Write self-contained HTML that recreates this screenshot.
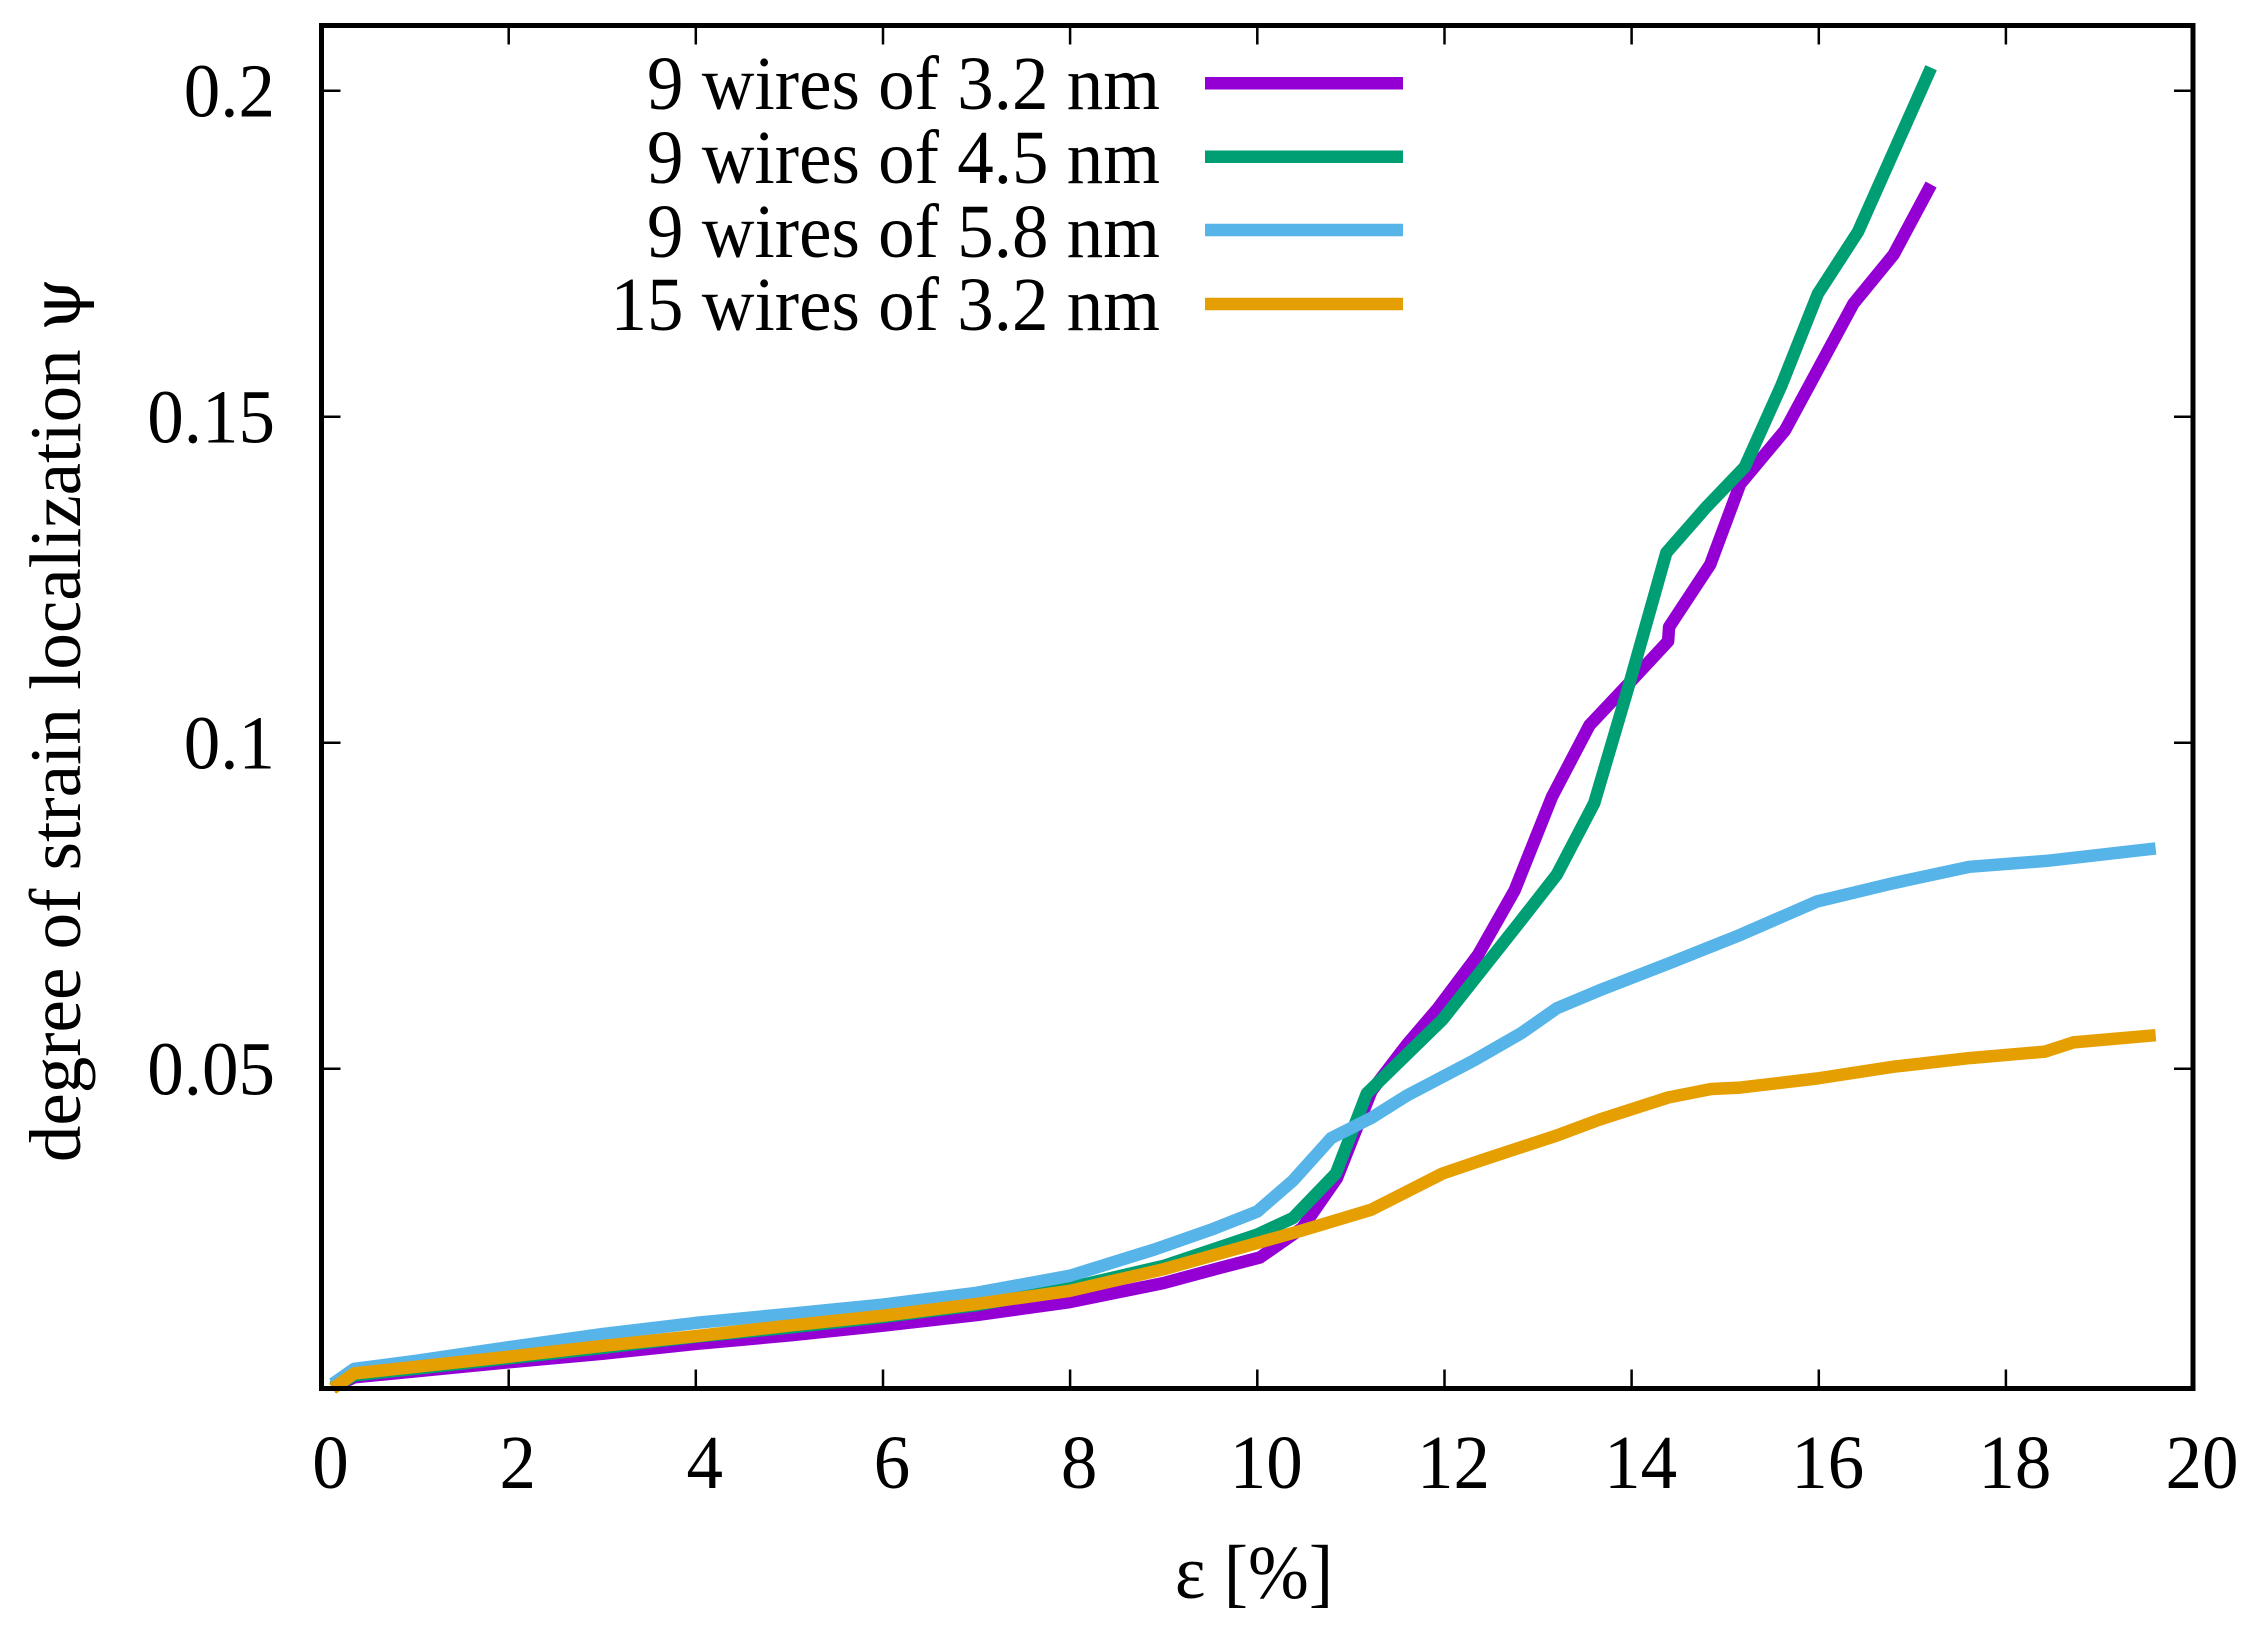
<!DOCTYPE html>
<html>
<head>
<meta charset="utf-8">
<style>
  html, body { margin: 0; padding: 0; background: #ffffff; }
  body { width: 2263px; height: 1637px; overflow: hidden; }
  svg { display: block; }
  text { font-family: "Liberation Serif", "DejaVu Serif", serif; font-size: 73px; fill: #000; }
</style>
</head>
<body>
<svg width="2263" height="1637" viewBox="0 0 2263 1637" xmlns="http://www.w3.org/2000/svg">
  <rect x="0" y="0" width="2263" height="1637" fill="#ffffff"/>

  <!-- ticks -->
  <g stroke="#000" stroke-width="2.5" fill="none">
    <path d="M508.7 1388.5V1369.5 M695.8 1388.5V1369.5 M883.0 1388.5V1369.5 M1070.1 1388.5V1369.5 M1257.3 1388.5V1369.5 M1444.5 1388.5V1369.5 M1631.6 1388.5V1369.5 M1818.8 1388.5V1369.5 M2005.9 1388.5V1369.5"/>
    <path d="M508.7 25.5V44.5 M695.8 25.5V44.5 M883.0 25.5V44.5 M1070.1 25.5V44.5 M1257.3 25.5V44.5 M1444.5 25.5V44.5 M1631.6 25.5V44.5 M1818.8 25.5V44.5 M2005.9 25.5V44.5"/>
    <path d="M321.5 1068.7H340.5 M321.5 742.7H340.5 M321.5 416.7H340.5 M321.5 90.7H340.5"/>
    <path d="M2193 1068.7H2174 M2193 742.7H2174 M2193 416.7H2174 M2193 90.7H2174"/>
  </g>

  <!-- curves -->
  <g fill="none" stroke-width="12.5" stroke-linejoin="round" stroke-linecap="butt">
    <polyline stroke="#9400D3" points="332.7,1387.2 354.3,1377.3 415.1,1371.4 508.7,1362.3 602.2,1353.8 695.8,1343.9 789.4,1335.4 883.0,1325.6 976.6,1315.1 1070.1,1302.0 1163.7,1283.0 1219.9,1267.9 1260.1,1257.4 1302.2,1228.0 1337.0,1178.0 1371.5,1090.9 1407.0,1044.4 1437.9,1008.3 1478.2,954.6 1514.6,890.4 1552.1,796.6 1589.5,725.2 1629.7,682.6 1668.1,641.3 1669.1,626.9 1710.2,564.6 1740.2,484.0 1785.1,430.2 1853.4,303.7 1893.6,254.6 1931.1,184.5"/>
    <polyline stroke="#009E73" points="332.7,1387.2 354.3,1375.4 415.1,1368.8 508.7,1358.3 602.2,1347.9 695.8,1336.7 789.4,1327.5 883.0,1317.0 976.6,1305.2 1070.1,1287.6 1163.7,1265.9 1257.3,1234.5 1292.9,1218.1 1335.9,1173.5 1366.8,1093.5 1442.6,1019.5 1518.4,923.8 1556.8,874.6 1594.2,803.2 1629.7,682.6 1666.3,552.8 1706.5,506.9 1744.8,466.9 1781.3,385.7 1817.8,293.9 1858.1,231.6 1931.1,67.7"/>
    <polyline stroke="#56B4E9" points="332.7,1383.9 354.3,1368.8 415.1,1361.0 508.7,1347.2 602.2,1334.1 695.8,1322.9 789.4,1313.8 883.0,1304.6 976.6,1292.8 1070.1,1275.7 1154.4,1249.5 1210.5,1229.9 1257.3,1211.5 1292.9,1180.7 1331.2,1138.1 1371.5,1117.8 1407.0,1095.5 1474.4,1060.1 1521.2,1033.2 1556.8,1008.3 1598.9,990.6 1668.1,963.7 1740.2,934.9 1816.9,901.5 1893.6,883.1 1969.4,866.8 2046.2,860.9 2155.7,848.4"/>
    <polyline stroke="#E69F00" points="332.7,1388.5 354.3,1373.4 415.1,1366.9 508.7,1356.7 602.2,1345.9 695.8,1336.1 789.4,1325.6 883.0,1315.7 976.6,1303.9 1070.1,1290.8 1163.7,1269.2 1257.3,1243.0 1304.1,1229.9 1371.5,1209.6 1442.6,1173.5 1481.0,1160.4 1556.8,1135.5 1598.9,1119.8 1668.1,1097.5 1711.2,1089.0 1740.2,1087.6 1816.9,1078.5 1893.6,1066.7 1969.4,1058.1 2045.2,1051.6 2073.3,1042.4 2155.7,1035.2"/>
  </g>

  <!-- border -->
  <rect x="321.5" y="25.5" width="1871.5" height="1363" fill="none" stroke="#000" stroke-width="5"/>

  <!-- y tick labels -->
  <g text-anchor="end" font-family="Liberation Serif, serif">
    <text transform="translate(275,116.7) scale(1,1.045)">0.2</text>
    <text transform="translate(275,442.7) scale(1,1.045)">0.15</text>
    <text transform="translate(275,768.7) scale(1,1.045)">0.1</text>
    <text transform="translate(275,1094.7) scale(1,1.045)">0.05</text>
  </g>

  <!-- x tick labels -->
  <g text-anchor="middle" font-family="Liberation Serif, serif">
    <text transform="translate(330.5,1488) scale(1,1.045)">0</text>
    <text transform="translate(517.7,1488) scale(1,1.045)">2</text>
    <text transform="translate(704.8,1488) scale(1,1.045)">4</text>
    <text transform="translate(892,1488) scale(1,1.045)">6</text>
    <text transform="translate(1079.1,1488) scale(1,1.045)">8</text>
    <text transform="translate(1266.3,1488) scale(1,1.045)">10</text>
    <text transform="translate(1453.5,1488) scale(1,1.045)">12</text>
    <text transform="translate(1640.6,1488) scale(1,1.045)">14</text>
    <text transform="translate(1827.8,1488) scale(1,1.045)">16</text>
    <text transform="translate(2014.9,1488) scale(1,1.045)">18</text>
    <text transform="translate(2202,1488) scale(1,1.045)">20</text>
  </g>

  <!-- axis labels -->
  <text text-anchor="middle" font-family="Liberation Serif, serif" transform="translate(1254,1598) scale(1,1.045)">ε [%]</text>
  <text text-anchor="middle" font-family="Liberation Serif, serif" transform="translate(80,720) rotate(-90)">degree of strain localization <tspan font-family="DejaVu Serif, serif" font-size="68">ψ</tspan></text>

  <!-- legend -->
  <g text-anchor="end" font-family="Liberation Serif, serif">
    <text transform="translate(1160,109) scale(1,1.045)">9 wires of 3.2 nm</text>
    <text transform="translate(1160,183) scale(1,1.045)">9 wires of 4.5 nm</text>
    <text transform="translate(1160,257) scale(1,1.045)">9 wires of 5.8 nm</text>
    <text transform="translate(1160,330) scale(1,1.045)">15 wires of 3.2 nm</text>
  </g>
  <g stroke-width="12.5" fill="none">
    <line x1="1205" y1="83.3" x2="1403" y2="83.3" stroke="#9400D3"/>
    <line x1="1205" y1="156.7" x2="1403" y2="156.7" stroke="#009E73"/>
    <line x1="1205" y1="230" x2="1403" y2="230" stroke="#56B4E9"/>
    <line x1="1205" y1="304" x2="1403" y2="304" stroke="#E69F00"/>
  </g>
</svg>
</body>
</html>
